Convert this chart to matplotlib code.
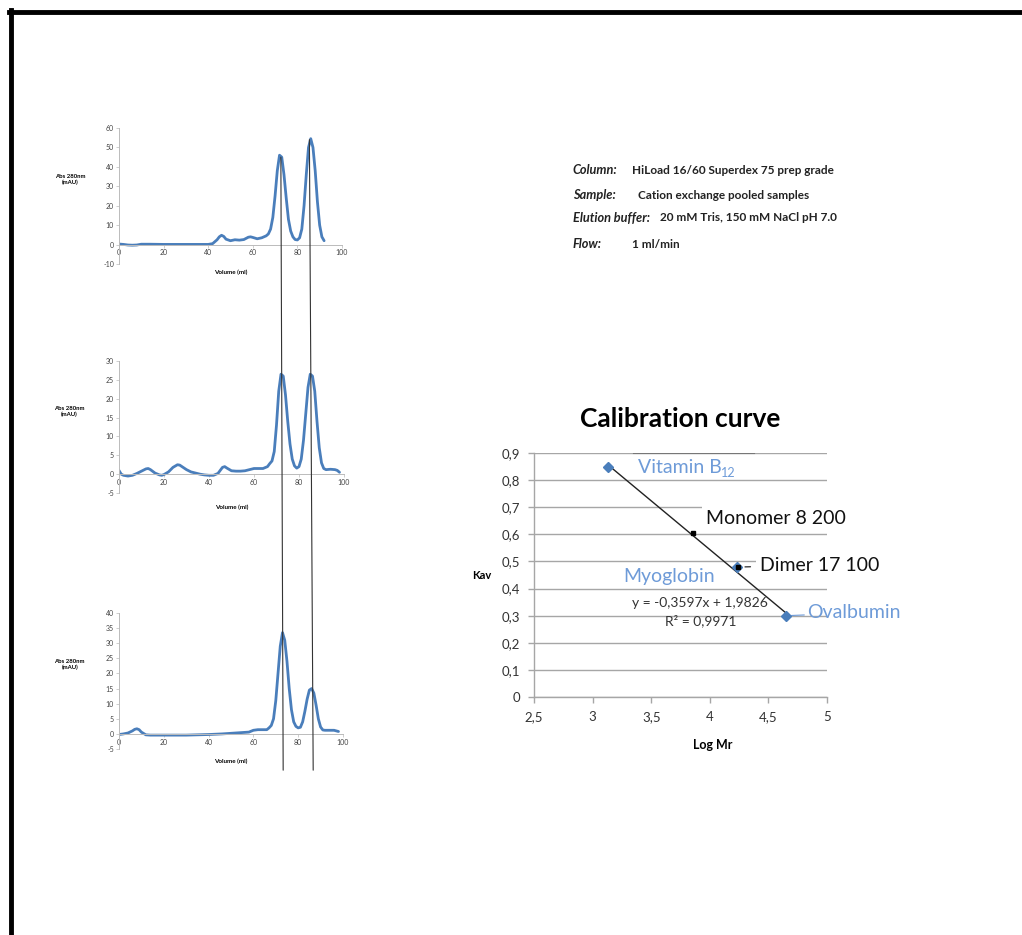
import matplotlib.pyplot as plt
import numpy as np
from matplotlib.lines import Line2D
from matplotlib.patches import ConnectionPatch

plt.rcParams['font.family'] = ['Lato', 'DejaVu Sans']
plt.rcParams['axes.unicode_minus'] = False

# Chromatogram 1
vol1 = [0, 2, 4, 6, 8, 10, 14, 20, 30, 40, 42, 44, 45, 46, 47, 48, 50, 52, 54, 56, 58, 59, 60,
        62, 64, 66, 67, 68, 69, 70, 71, 72, 73, 74, 75, 76, 77, 78, 79, 80, 81, 82, 83, 84, 85,
        86, 87, 88, 89, 90, 91, 92]
abs1 = [0.3, 0.1, -0.2, -0.3, -0.2, 0.2, 0.2, 0.1, 0.1, 0.1, 0.5, 2.5, 4.0, 4.8, 4.2, 2.8, 2.0,
        2.5, 2.3, 2.6, 3.8, 4.0, 3.7, 3.0, 3.5, 4.5, 5.5, 8.0, 14, 25, 38, 46, 45, 36, 24, 13, 7,
        4.0, 2.6, 2.4, 3.5, 8, 20, 36, 50, 54.5, 50, 38, 22, 10, 4, 2]

# Chromatogram 2
vol2 = [0, 1, 2, 4, 6, 8, 10, 12, 13, 14, 16, 18, 19, 20, 22, 24, 26, 27, 28, 30, 32, 34, 36,
        38, 40, 42, 44, 45, 46, 47, 48, 50, 52, 54, 56, 58, 60, 62, 64, 66, 67, 68, 69, 70, 71,
        72, 73, 74, 75, 76, 77, 78, 79, 80, 81, 82, 83, 84, 85, 86, 87, 88, 89, 90, 91, 92, 94,
        96, 97, 98]
abs2 = [1.0, 0.0, -0.3, -0.5, -0.3, 0.2, 0.8, 1.4, 1.5, 1.2, 0.3, -0.2, -0.3, -0.1, 0.6, 1.8,
        2.5, 2.4, 2.0, 1.2, 0.6, 0.3, 0.0, -0.2, -0.3, -0.3, 0.2, 1.0, 1.8, 2.0, 1.6, 0.9, 0.8,
        0.8, 0.9, 1.2, 1.5, 1.5, 1.5, 2.0, 2.8, 3.5, 6, 13, 22, 26.5, 26, 21, 14, 8, 4, 2.2, 1.6,
        2.0, 4, 9, 16, 23, 26.5, 26, 22, 14, 7, 3, 1.5, 1.2, 1.3, 1.2, 1.0, 0.5]

# Chromatogram 3
vol3 = [0, 2, 4, 6, 7, 8, 9, 10, 12, 14, 20, 30, 40, 46, 50, 56, 58, 60, 62, 66, 67, 68, 69,
        70, 71, 72, 73, 74, 75, 76, 77, 78, 79, 80, 81, 82, 83, 84, 85, 86, 87, 88, 89, 90, 91,
        92, 96, 98]
abs3 = [-0.2, 0.0, 0.3, 1.0, 1.5, 1.7, 1.4, 0.6, -0.3, -0.4, -0.4, -0.4, -0.2, 0.0, 0.2, 0.5,
        0.6, 1.2, 1.4, 1.4, 2.0, 2.8, 5, 11, 20, 29, 33.5, 31, 24, 15, 8, 4, 2.5, 2.0, 2.2, 4,
        7.5, 11.5, 14.5, 15, 13.5, 9.5, 5, 2.3, 1.3, 1.2, 1.2, 0.8]

# volumes / heights where the guide lines touch chart 1 and chart 3
guide_vol_top = [72.6, 85.4]
guide_abs_top = [45, 54]
guide_vol_bottom = [73.3, 86.7]

# Calibration curve data
std_names = ['Vitamin B', 'Myoglobin', 'Ovalbumin']
log_mr_std = [3.13, 4.23, 4.65]
kav_std = [0.85, 0.48, 0.30]
sample_names = ['Monomer 8 200', 'Dimer 17 100']
log_mr_sample = [3.86, 4.24]
kav_sample = [0.605, 0.48]
slope, intercept, r2 = -0.3597, 1.9826, 0.9971

info_keys = ['Column:', 'Sample:', 'Elution buffer:', 'Flow:']
info_vals = ['HiLoad 16/60 Superdex 75 prep grade', 'Cation exchange pooled samples',
             '20 mM Tris, 150 mM NaCl pH 7.0', '1 ml/min']

blue = '#4A7EBB'
light_blue = '#6E9BD8'

fig = plt.figure(figsize=(10.22, 9.35), dpi=100)

# page frame
fig.add_artist(Line2D([0.009, 1.0], [0.987, 0.987], transform=fig.transFigure, color='black', lw=3.5))
fig.add_artist(Line2D([0.011, 0.011], [0.0, 0.989], transform=fig.transFigure, color='black', lw=3.5))


def chromatogram(rect, vol, absb, ylim, ystep):
    ax = fig.add_axes(rect)
    ax.plot(vol, absb, color=blue, lw=2.0, solid_capstyle='round', solid_joinstyle='round')
    ax.set_xlim(0, 100)
    ax.set_ylim(*ylim)
    ax.set_xticks(np.arange(0, 101, 20))
    ax.set_yticks(np.arange(ylim[0], ylim[1] + 1, ystep))
    ax.spines['top'].set_visible(False)
    ax.spines['right'].set_visible(False)
    ax.spines['bottom'].set_position(('data', 0))
    for s in ['left', 'bottom']:
        ax.spines[s].set_color('#BBBBBB')
        ax.spines[s].set_linewidth(0.7)
    ax.tick_params(labelsize=5, length=2, width=0.5, color='#BBBBBB', pad=1.5, labelcolor='#444444')
    ax.set_xlabel('Volume (ml)', fontsize=4.5, fontweight='bold', labelpad=1)
    ax.set_ylabel('Abs 280nm\n(mAU)', fontsize=4.3, fontweight='bold', rotation=0, ha='center', va='center')
    ax.yaxis.set_label_coords(-0.22, 0.62)
    ax.patch.set_visible(False)
    return ax


ax1 = chromatogram([0.1164, 0.7176, 0.2182, 0.1455], vol1, abs1, (-10, 60), 10)
ax2 = chromatogram([0.1164, 0.4727, 0.2202, 0.1412], vol2, abs2, (-5, 30), 5)
ax3 = chromatogram([0.1164, 0.1989, 0.2192, 0.1455], vol3, abs3, (-5, 40), 5)
ax1.xaxis.set_label_coords(0.5, -0.04)
ax2.xaxis.set_label_coords(0.5, -0.09)
ax3.xaxis.set_label_coords(0.5, -0.07)

# vertical guide lines through the peaks
for vt, at, vb in zip(guide_vol_top, guide_abs_top, guide_vol_bottom):
    con = ConnectionPatch(xyA=(vt, at), coordsA=ax1.transData, xyB=(vb, -12), coordsB=ax3.transData,
                          color='#333333', lw=0.8)
    fig.add_artist(con)

# info text
info_y = [0.818, 0.791, 0.767, 0.739]
info_x = [0.6185, 0.6240, 0.6460, 0.6185]
for key, val, y, xv in zip(info_keys, info_vals, info_y, info_x):
    fig.text(0.5605, y, key, fontsize=9.2, fontstyle='italic', fontweight='bold', color='#222222', va='center')
    fig.text(xv, y, val, fontsize=8.5, fontweight='bold', color='#222222', va='center')

# calibration curve
axc = fig.add_axes([0.5225, 0.2545, 0.2867, 0.261])
axc.set_xlim(2.5, 5)
axc.set_ylim(0, 0.9)
axc.set_xticks(np.arange(2.5, 5.01, 0.5))
axc.set_yticks(np.arange(0, 0.91, 0.1))
axc.set_xticklabels([f'{v:g}'.replace('.', ',') for v in np.arange(2.5, 5.01, 0.5)])
axc.set_yticklabels(['0'] + [f'{v:.1f}'.replace('.', ',') for v in np.arange(0.1, 0.91, 0.1)])
axc.grid(axis='y', color='#A6A6A6', lw=1.0, zorder=0)
axc.set_axisbelow(True)
for s in ['top', 'right']:
    axc.spines[s].set_visible(False)
for s in ['left', 'bottom']:
    axc.spines[s].set_color('#A6A6A6')
    axc.spines[s].set_linewidth(1.0)
axc.tick_params(labelsize=9.5, length=4, width=1, color='#A6A6A6', labelcolor='#333333', pad=6)
axc.set_title('Calibration curve', fontsize=19, fontweight='bold', pad=19)
axc.set_xlabel('Log Mr', fontsize=9, fontweight='bold', labelpad=10)
axc.xaxis.set_label_coords(0.61, -0.17)
axc.set_ylabel('Kav', fontsize=8, fontweight='bold', rotation=0, labelpad=14, va='center')

fit_x = np.array([min(log_mr_std), max(log_mr_std)])
axc.plot(fit_x, slope * fit_x + intercept, color='#222222', lw=1.0, zorder=3)
axc.plot(log_mr_std, kav_std, linestyle='none', marker='D', ms=5.5, color=blue, zorder=4)
axc.plot(log_mr_sample, kav_sample, linestyle='none', marker='s', ms=3, color='black', zorder=5)

# stray dark segment on the top gridline
axc.axhline(0.9, xmin=0.34, xmax=0.75, color='#777777', lw=1.5, zorder=1)

lab = 14
box = dict(facecolor='white', edgecolor='none', pad=3)
vit = axc.text(3.39, 0.845, std_names[0], fontsize=lab, color=light_blue, va='center', ha='left', zorder=2)
axc.annotate('12', xy=(1, 0), xycoords=vit, xytext=(-0.5, -1.5), textcoords='offset points',
             fontsize=lab * 0.65, color=light_blue, va='bottom', ha='left')
axc.text(3.65, 0.445, std_names[1], fontsize=lab, color=light_blue, va='center', ha='center',
         bbox=dict(facecolor='white', edgecolor='none', pad=1), zorder=2)
axc.annotate(std_names[2], xy=(log_mr_std[2], kav_std[2]), xytext=(4.83, 0.31), fontsize=lab,
             color=light_blue, va='center', ha='left', annotation_clip=False,
             arrowprops=dict(arrowstyle='-', color=light_blue, lw=0.8, shrinkA=0, shrinkB=4), zorder=2)
axc.text(3.97, 0.66, sample_names[0], fontsize=lab, color='#111111', va='center', ha='left',
         bbox=box, zorder=2)
axc.annotate(sample_names[1], xy=(4.30, kav_sample[1]), xytext=(4.43, 0.485), fontsize=lab,
             color='#111111', va='center', ha='left', annotation_clip=False,
             bbox=dict(facecolor='white', edgecolor='none', pad=3),
             arrowprops=dict(arrowstyle='-', color='#111111', lw=0.8, shrinkA=4, shrinkB=0), zorder=2)
eq = f'y = {slope:.4f}x + {intercept:.4f}'.replace('.', ',')
axc.text(3.92, 0.348, eq, fontsize=10, color='#333333', ha='center', va='center', zorder=2)
axc.text(3.92, 0.283, f'R² = {r2:.4f}'.replace('.', ','), fontsize=10, color='#333333',
         ha='center', va='center', zorder=2)

fig.savefig('out.png', dpi=100)
